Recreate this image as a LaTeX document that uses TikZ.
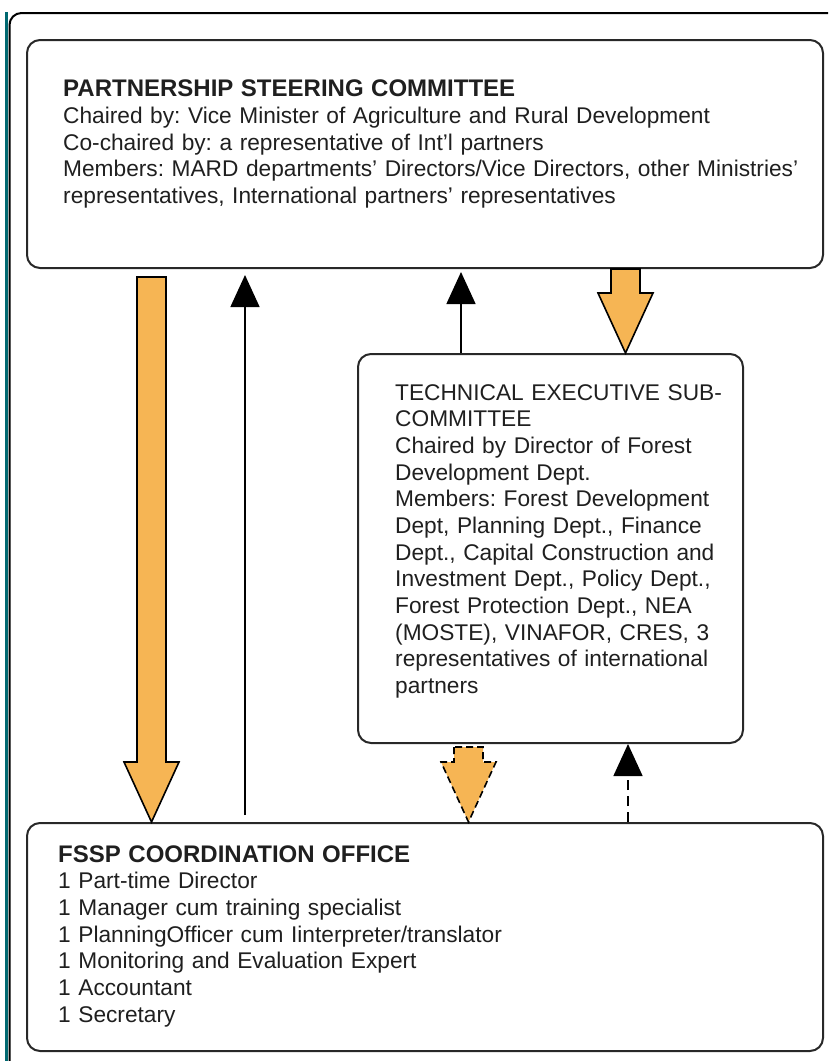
\documentclass[tikz,border=0pt]{standalone}
\usepackage{fontspec}
\setmainfont{Liberation Sans}
\usetikzlibrary{arrows.meta,positioning,calc}
\frenchspacing

\definecolor{arroworange}{RGB}{246,181,84}
\definecolor{boxline}{RGB}{40,40,40}
\definecolor{edgeteal}{RGB}{0,104,112}
\newcommand{\boxtitle}[1]{{\fontsize{24}{26.67}\selectfont\bfseries #1}}

\begin{document}
\begin{tikzpicture}[x=1pt, y=-1pt,
        box/.style={draw=boxline, line width=2pt, rounded corners=13pt, anchor=north west, inner sep=0pt}, % the three bodies
        txt/.style={text width=#1, align=left, inner sep=0pt, anchor=base west, text=black!88,
            font=\fontsize{22.7}{26.67}\selectfont},
        uparrow/.style={-{Triangle[length=32pt,width=29pt]}, line width=1.5pt}, % thin reporting lines
        blockarrow/.style={draw=black, line width=1.6pt, fill=arroworange, line join=miter,
            to path={let \p1=(\tikztostart), \p2=(\tikztotarget) in
                (\x1-14.5pt,\y1) -- (\x1-14.5pt,\y2+60pt) -- (\x1-27.5pt,\y2+60pt) -- (\x2,\y2)
                -- (\x1+27.5pt,\y2+60pt) -- (\x1+14.5pt,\y2+60pt) -- (\x1+14.5pt,\y1) -- cycle}}, % orange guidance arrows
    ]
    \useasboundingbox (0,0) rectangle (828,1061);

    % page frame
    \draw[edgeteal, line width=2.5pt] (6.5,12) -- (6.5,1061);
    \draw[line width=2pt, rounded corners=12pt] (9.5,1061) -- (9.5,13) -- (828,13);

    \node[box, minimum width=796pt, minimum height=228pt] (psc) at (26,39) {};
    \node[box, minimum width=385pt, minimum height=389pt] (tecs) at (357,353) {};
    \node[box, minimum width=796pt, minimum height=228pt] (fssp) at (26,822) {};

    \node[txt=760pt, below right=57.7pt and 37pt of psc.north west, anchor=base west] (psctext)
        {\boxtitle{PARTNERSHIP STEERING COMMITTEE}\\
        Chaired by: Vice Minister of Agriculture and Rural Development\\
        Co-chaired by: a representative of Int'l partners\\
        Members: MARD departments' Directors/Vice Directors, other Ministries'\\
        representatives, International partners' representatives};
    \node[txt=340pt, below right=47pt and 38pt of tecs.north west, anchor=base west] (tecstext)
        {TECHNICAL EXECUTIVE SUB-\\
        COMMITTEE\\
        Chaired by Director of Forest\\
        Development Dept.\\
        Members: Forest Development\\
        Dept, Planning Dept., Finance\\
        Dept., Capital Construction and\\
        Investment Dept., Policy Dept.,\\
        Forest Protection Dept., NEA\\
        (MOSTE), VINAFOR, CRES, 3\\
        representatives of international\\
        partners};
    \node[txt=760pt, below right=40pt and 32pt of fssp.north west, anchor=base west] (fssptext)
        {\boxtitle{FSSP COORDINATION OFFICE}\\
        1 Part-time Director\\
        1 Manager cum training specialist\\
        1 PlanningOfficer cum Iinterpreter/translator\\
        1 Monitoring and Evaluation Expert\\
        1 Accountant\\
        1 Secretary};

    % arrow columns
    \coordinate (c1) at (151.5,0);
    \coordinate (c2) at (245,0);
    \coordinate (c3) at (461,0);
    \coordinate (c4) at (625.5,0);
    \coordinate (c5) at (468.5,0);
    \coordinate (c6) at (628,0);

    \draw[blockarrow] ([yshift=-8pt]c1 |- psc.south) to (c1 |- fssp.north);
    \draw[uparrow] ([yshift=7pt]c2 |- fssp.north) -- ([yshift=-6pt]c2 |- psc.south);
    \draw[uparrow] (c3 |- tecs.north) -- ([yshift=-3pt]c3 |- psc.south);
    \draw[blockarrow] (c4 |- psc.south) to (c4 |- tecs.north);
    \draw[blockarrow, dash pattern=on 7pt off 4pt] ([yshift=-3pt]c5 |- tecs.south) to (c5 |- fssp.north);
    \draw[uparrow, dash pattern=on 10pt off 6pt] (c6 |- fssp.north) -- (c6 |- tecs.south);
\end{tikzpicture}
\end{document}
